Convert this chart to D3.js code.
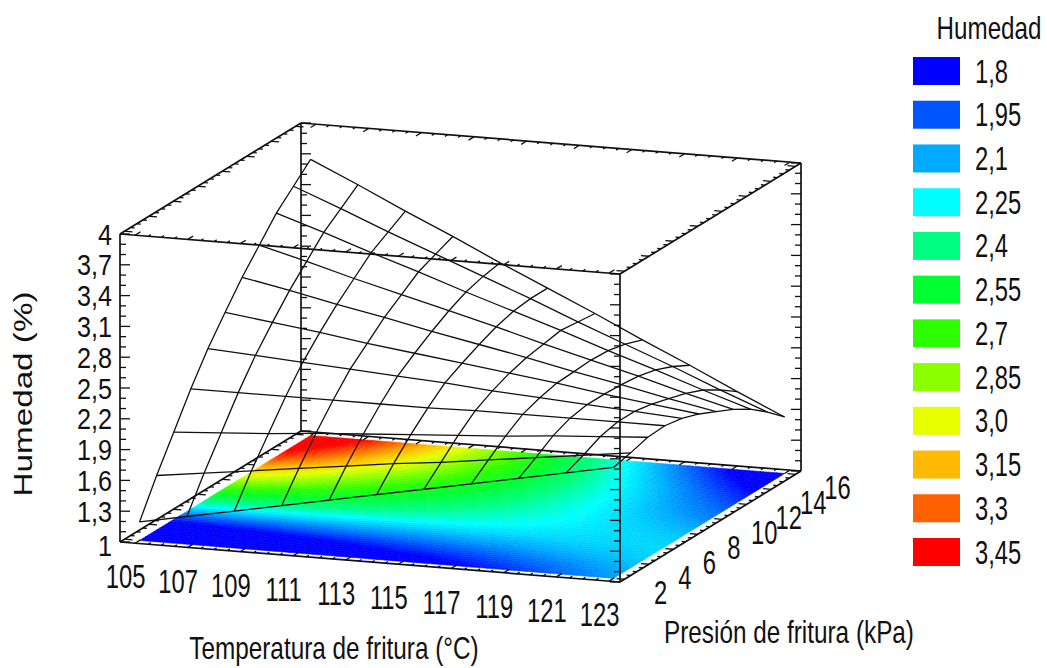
<!DOCTYPE html>
<html>
<head>
<meta charset="utf-8">
<script src="https://cdn.jsdelivr.net/npm/d3@7"></script>
<style>
  html, body { margin: 0; padding: 0; background: #fff; }
  text { font-family: "Liberation Sans", Arial, sans-serif; fill: #111; }
</style>
</head>
<body>
<div id="viz"></div>
<script>
// frame
const F_WIDTH = 1047;
const F_HEIGHT = 668;

// data
const TEMPS = [105, 106.8, 108.6, 110.4, 112.2, 114, 115.8, 117.6, 119.4, 121.2, 123];
const PRESS = [2, 3.4, 4.8, 6.2, 7.6, 9, 10.4, 11.8, 13.2, 14.6, 16];

// humidity at every wire node, one row per pressure
const HUM_P2  = [1.18, 1.27, 1.36, 1.45, 1.54, 1.63, 1.72, 1.81, 1.90, 1.99, 2.08];
const HUM_P3  = [1.53, 1.59, 1.65, 1.71, 1.77, 1.83, 1.88, 1.94, 2.00, 2.06, 2.12];
const HUM_P5  = [1.85, 1.88, 1.91, 1.95, 1.98, 2.01, 2.04, 2.07, 2.11, 2.14, 2.17];
const HUM_P6  = [2.17, 2.17, 2.17, 2.17, 2.17, 2.17, 2.18, 2.18, 2.18, 2.18, 2.18];
const HUM_P8  = [2.46, 2.43, 2.40, 2.37, 2.34, 2.31, 2.27, 2.24, 2.21, 2.18, 2.15];
const HUM_P9  = [2.71, 2.65, 2.59, 2.52, 2.46, 2.40, 2.34, 2.28, 2.21, 2.15, 2.09];
const HUM_P10 = [2.95, 2.86, 2.76, 2.67, 2.57, 2.48, 2.39, 2.29, 2.20, 2.10, 2.01];
const HUM_P12 = [3.16, 3.04, 2.91, 2.79, 2.67, 2.55, 2.42, 2.30, 2.18, 2.05, 1.93];
const HUM_P13 = [3.37, 3.22, 3.06, 2.91, 2.75, 2.60, 2.45, 2.29, 2.14, 1.98, 1.83];
const HUM_P15 = [3.53, 3.35, 3.16, 2.98, 2.80, 2.62, 2.43, 2.25, 2.07, 1.88, 1.70];
const HUM_P16 = [3.69, 3.48, 3.26, 3.05, 2.83, 2.62, 2.41, 2.19, 1.98, 1.76, 1.55];
const HUM = [HUM_P2, HUM_P3, HUM_P5, HUM_P6, HUM_P8, HUM_P9, HUM_P10, HUM_P12, HUM_P13, HUM_P15, HUM_P16];

const TEMP_TICKS = [105, 107, 109, 111, 113, 115, 117, 119, 121, 123];
const PRESS_TICKS = [2, 4, 6, 8, 10, 12, 14, 16];
const HUM_TICKS = [1, 1.3, 1.6, 1.9, 2.2, 2.5, 2.8, 3.1, 3.4, 3.7, 4];
const HUM_LABELS = ["1", "1,3", "1,6", "1,9", "2,2", "2,5", "2,8", "3,1", "3,4", "3,7", "4"];

const LEGEND_LEVELS = [1.8, 1.95, 2.1, 2.25, 2.4, 2.55, 2.7, 2.85, 3.0, 3.15, 3.3, 3.45];
const LEGEND_LABELS = ["1,8", "1,95", "2,1", "2,25", "2,4", "2,55", "2,7", "2,85", "3,0", "3,15", "3,3", "3,45"];
const LEGEND_COLORS = ["#0000ff", "#0055ff", "#00aaff", "#00ffff", "#00ff80", "#00ff30",
                       "#2eff00", "#8cff00", "#e8ff00", "#ffb900", "#ff6000", "#ff0000"];

// box on screen: origin is the front left floor corner
const ORIGIN = [120, 542];
const T_VEC = [500, 40];
const P_VEC = [181, -111];
const H_LEN = 308;

// scales
const T_SCALE = d3.scaleLinear().domain([105, 123]).range([0.03, 0.978]);
const P_SCALE = d3.scaleLinear().domain([2, 16]).range([0.025, 0.97]);
const H_SCALE = d3.scaleLinear().domain([1, 4]).range([0, H_LEN]);
const COLOR = d3.scaleLinear().domain(LEGEND_LEVELS).range(LEGEND_COLORS).clamp(true);
const LEGEND_Y = d3.scalePoint().domain(LEGEND_LABELS).range([71, 552]);

// box coordinates (0 to 1 along temp and pressure, humidity in data units) to screen
function toScreen(u, v, h) {
  return [ORIGIN[0] + u * T_VEC[0] + v * P_VEC[0],
          ORIGIN[1] + u * T_VEC[1] + v * P_VEC[1] - H_SCALE(h)];
}
function project(t, p, h) {
  return toScreen(T_SCALE(t), P_SCALE(p), h);
}

const FRAME = d3.select("#viz")
  .append("svg")
  .attr("width", F_WIDTH)
  .attr("height", F_HEIGHT)
  .style("display", "block");

const line = d3.line();

// squeezed text like the original export
function label(x, y, str, size, sx, anchor) {
  return FRAME.append("text")
    .attr("transform", "translate(" + x + "," + y + ") scale(" + sx + ",1)")
    .attr("dy", "0.35em")
    .attr("text-anchor", anchor || "middle")
    .attr("font-size", size)
    .text(str);
}

// contour floor, every wire cell split in small quads
const SUB = 6;
const floor = FRAME.append("g");
for (let j = 0; j < PRESS.length - 1; j++) {
  for (let i = 0; i < TEMPS.length - 1; i++) {
    for (let b = 0; b < SUB; b++) {
      for (let a = 0; a < SUB; a++) {
        const t0 = TEMPS[i] + (TEMPS[i + 1] - TEMPS[i]) * a / SUB;
        const t1 = TEMPS[i] + (TEMPS[i + 1] - TEMPS[i]) * (a + 1) / SUB;
        const p0 = PRESS[j] + (PRESS[j + 1] - PRESS[j]) * b / SUB;
        const p1 = PRESS[j] + (PRESS[j + 1] - PRESS[j]) * (b + 1) / SUB;
        const s = (a + 0.5) / SUB, r = (b + 0.5) / SUB;
        const h = (1 - r) * ((1 - s) * HUM[j][i] + s * HUM[j][i + 1])
                + r * ((1 - s) * HUM[j + 1][i] + s * HUM[j + 1][i + 1]);
        const c = COLOR(h);
        floor.append("path")
          .attr("d", line([project(t0, p0, 1), project(t1, p0, 1), project(t1, p1, 1), project(t0, p1, 1)]) + "Z")
          .attr("fill", c)
          .attr("stroke", c)
          .attr("stroke-width", 0.6);
      }
    }
  }
}

// box edges
const box = FRAME.append("g").attr("fill", "none").attr("stroke", "#111").attr("stroke-width", 1.7);
function boxLine(a, b) {
  box.append("path").attr("d", line([a, b]));
}
[1, 4].forEach((h) => {
  boxLine(toScreen(0, 0, h), toScreen(1, 0, h));
  boxLine(toScreen(1, 0, h), toScreen(1, 1, h));
  boxLine(toScreen(1, 1, h), toScreen(0, 1, h));
  boxLine(toScreen(0, 1, h), toScreen(0, 0, h));
});
[[0, 0], [1, 0], [1, 1], [0, 1]].forEach((c) => {
  boxLine(toScreen(c[0], c[1], 1), toScreen(c[0], c[1], 4));
});

// ticks on the vertical edges
const tickG = FRAME.append("g").attr("fill", "none").attr("stroke", "#111").attr("stroke-width", 1.3);
function tick(a, b) {
  tickG.append("path").attr("d", line([a, b]));
}
d3.range(0, 31).forEach((k) => {
  const h = 1 + k / 10;
  const len = k % 3 === 0 ? 10 : 6;
  const left = toScreen(0, 0, h);
  tick(left, [left[0] + len, left[1]]);
  const back = toScreen(0, 1, h);
  tick(back, [back[0] + len, back[1]]);
  const right = toScreen(1, 0, h);
  tick(right, [right[0] - len, right[1]]);
  const far = toScreen(1, 1, h);
  tick(far, [far[0] - len, far[1]]);
});

// ticks on the horizontal edges, pointing into the box
d3.range(0, 37).forEach((k) => {
  const t = 105 + k * 0.5;
  const u = T_SCALE(t);
  const d = k % 4 === 0 ? 0.03 : 0.015;
  [1, 4].forEach((h) => {
    tick(toScreen(u, 0, h), toScreen(u, d, h));
    tick(toScreen(u, 1, h), toScreen(u, 1 - d, h));
  });
});
d3.range(0, 29).forEach((k) => {
  const p = 2 + k * 0.5;
  const v = P_SCALE(p);
  const d = k % 4 === 0 ? 0.016 : 0.008;
  [1, 4].forEach((h) => {
    tick(toScreen(0, v, h), toScreen(d, v, h));
    tick(toScreen(1, v, h), toScreen(1 - d, v, h));
  });
});

// wire frame of the surface
const wire = FRAME.append("g").attr("fill", "none").attr("stroke", "#111").attr("stroke-width", 1.3);
PRESS.forEach((p, j) => {
  wire.append("path").attr("d", line(TEMPS.map((t, i) => project(t, p, HUM[j][i]))));
});
TEMPS.forEach((t, i) => {
  wire.append("path").attr("d", line(PRESS.map((p, j) => project(t, p, HUM[j][i]))));
});

// axis labels
HUM_TICKS.forEach((h, k) => {
  const pt = toScreen(0, 0, h);
  label(pt[0] - 8, pt[1] + (k === 0 ? 3 : 0), HUM_LABELS[k], 30, 0.84, "end");
});
TEMP_TICKS.forEach((t) => {
  const pt = project(t, 2, 1);
  label(pt[0] - 14, pt[1] + 36, t, 34, 0.7);
});
PRESS_TICKS.forEach((p) => {
  const pt = project(123, p, 1);
  label(pt[0] + (p < 10 ? 47 : 53), pt[1] + 14, p, 34, 0.7);
});

label(334, 648, "Temperatura de fritura (°C)", 32, 0.76);
label(789, 632, "Presión de fritura (kPa)", 32, 0.76);
FRAME.append("text")
  .attr("transform", "translate(23,394) rotate(-90) scale(1.33,1)")
  .attr("dy", "0.35em")
  .attr("text-anchor", "middle")
  .attr("font-size", 25)
  .text("Humedad (%)");

// legend
label(989, 28, "Humedad", 31, 0.78);
FRAME.append("g").selectAll("rect")
  .data(LEGEND_LABELS)
  .enter()
  .append("rect")
    .attr("x", 913)
    .attr("y", (d) => LEGEND_Y(d) - 14)
    .attr("width", 47)
    .attr("height", 28)
    .attr("fill", (d, i) => LEGEND_COLORS[i]);
LEGEND_LABELS.forEach((d) => {
  label(975, LEGEND_Y(d), d, 33, 0.72, "start");
});
</script>
</body>
</html>
